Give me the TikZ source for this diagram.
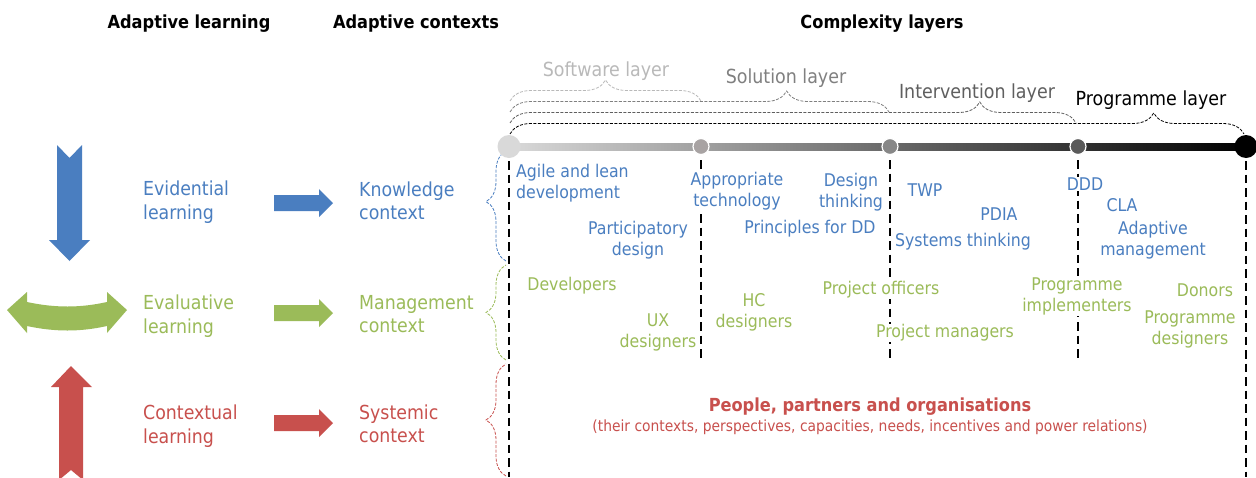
\documentclass[tikz,border=0pt]{standalone}
\usepackage{fontspec}
\setmainfont{DejaVu Sans Condensed}
\usetikzlibrary{decorations.pathreplacing}
\definecolor{cblue}{RGB}{74,126,192}
\definecolor{cgreen}{RGB}{155,187,89}
\definecolor{cred}{RGB}{200,80,77}
\definecolor{gsoft}{RGB}{185,185,185}
\definecolor{gsol}{RGB}{128,128,128}
\definecolor{gint}{RGB}{95,95,95}
\definecolor{dot1}{RGB}{217,217,217}
\definecolor{dot2}{RGB}{168,163,163}
\definecolor{dot3}{RGB}{135,135,135}
\definecolor{dot4}{RGB}{90,90,90}
\tikzset{
  hdr/.style={font=\fontsize{18}{22}\selectfont\bfseries, yshift=-2pt},
  big/.style={font=\fontsize{19.3}{23.5}\selectfont, align=left, anchor=west, inner sep=1pt, yshift=-2pt},
  txt/.style={font=\fontsize{17.5}{21}\selectfont, align=center, fill=white, inner sep=1pt, yshift=-2pt},
  layer/.style={font=\fontsize{19.4}{23}\selectfont, yshift=-2pt},
  vdash/.style={line width=2.8pt, dash pattern=on 8.5pt off 5pt},
  brc/.style={decorate, line width=0.8pt, dash pattern=on 3pt off 1.5pt},
  tdot/.style={circle, draw=white, line width=1.2pt, inner sep=0pt, minimum size=16pt},
  bdot/.style={circle, inner sep=0pt, minimum size=23pt},
}
\begin{document}
\begin{tikzpicture}[x=1pt,y=-1pt]
\useasboundingbox[fill=white] (0,0) rectangle (1256,477);

% headers
\node[hdr] (h1) at (189,22) {Adaptive learning};
\node[hdr] (h2) at (416,22) {Adaptive contexts};
\node[hdr] (h3) at (882,22) {Complexity layers};

% big learning arrows
\fill[cblue] (57,145) -- (69.5,158) -- (82,145) -- (82,240) -- (90,240) -- (69.5,261) -- (49,240) -- (57,240) -- cycle;
\fill[cgreen] (7,310) -- (27,292) -- (27,302) .. controls (55,308) and (80,308) .. (107,302) -- (107,292) -- (127,310) -- (107,333) -- (107,326) .. controls (80,332) and (55,332) .. (27,326) -- (27,333) -- cycle;
\fill[cred] (59,480) -- (59,387) -- (51,387) -- (71,366) -- (92,387) -- (83,387) -- (83,480) -- (71,470) -- cycle;

% learning and context labels
\node[big, text=cblue] (evid) at (142,200) {Evidential\\learning};
\node[big, text=cgreen] (eval) at (142,314) {Evaluative\\learning};
\node[big, text=cred] (cont) at (142,424) {Contextual\\learning};
\node[big, text=cblue] (know) at (358,199) {Knowledge\\context};
\node[big, text=cgreen] (mgmt) at (358,312) {Management\\context};
\node[big, text=cred] (syst) at (358,422) {Systemic\\context};

% small arrows
\foreach \yy/\cc in {203/cblue, 313/cgreen, 423/cred}
  \fill[\cc] (274,\yy-8) -- (319,\yy-8) -- (319,\yy-14) -- (333,\yy) -- (319,\yy+14) -- (319,\yy+8) -- (274,\yy+8) -- cycle;

% layer labels and braces
\node[layer, text=gsoft] (Lsw) at (606,69) {Software layer};
\node[layer, text=gsol] (Lso) at (786,76) {Solution layer};
\node[layer, text=gint] (Lin) at (977,91) {Intervention layer};
\node[layer, text=black] (Lpr) at (1151,98) {Programme layer};
\draw[brc, gsoft, decoration={brace, amplitude=21pt, aspect=0.5}] (510,101) -- (701,101);
\draw[brc, gsol, decoration={brace, amplitude=21pt, aspect=0.73}] (510,112) -- (889,112);
\draw[brc, gint, decoration={brace, amplitude=21pt, aspect=0.83}] (510,123) -- (1076,123);
\draw[brc, black, decoration={brace, amplitude=21pt, aspect=0.877}] (510,134) -- (1244,134);

% left context braces
\draw[brc, cblue, decoration={brace, amplitude=20pt, aspect=0.54}] (506,261) -- (506,151);
\draw[brc, cgreen, decoration={brace, amplitude=20pt, aspect=0.5}] (506,360) -- (506,265);
\draw[brc, cred, decoration={brace, amplitude=20pt, aspect=0.5}] (506,476) -- (506,364);

% timeline
\shade[left color=dot1, middle color=gray!62, right color=black] (509,143.5) rectangle (1246,150.5);
\node[bdot, fill=dot1] (d1) at (509,146.5) {};
\node[tdot, fill=dot2] (d2) at (701,146.5) {};
\node[tdot, fill=dot3] (d3) at (890,146.5) {};
\node[tdot, fill=dot4] (d4) at (1078,146.5) {};
\node[bdot, fill=black] (d5) at (1246,146.5) {};

% vertical dashed lines
\coordinate (e1) at (509,477);
\coordinate (e2) at (701,362);
\coordinate (e3) at (890,362);
\coordinate (e4) at (1078,362);
\coordinate (e5) at (1246,477);
\draw[vdash] ([yshift=-3pt]d1.south) -- (e1);
\draw[vdash] ([yshift=-5pt]d2.south) -- (e2);
\draw[vdash] ([yshift=-5pt]d3.south) -- (e3);
\draw[vdash] ([yshift=-5pt]d4.south) -- (e4);
\draw[vdash] ([yshift=-3pt]d5.south) -- (e5);

% knowledge items
\node[txt, text=cblue, align=left, anchor=west] (agile) at (515,181) {Agile and lean\\development};
\node[txt, text=cblue] (approp) at (737,189) {Appropriate\\technology};
\node[txt, text=cblue] (design) at (851,190) {Design\\thinking};
\node[txt, text=cblue] (partic) at (638,238) {Participatory\\design};
\node[txt, text=cblue] (princ) at (810,227) {Principles for DD};
\node[txt, text=cblue] (twp) at (925,188) {TWP};
\node[txt, text=cblue] (pdia) at (999,212) {PDIA};
\node[txt, text=cblue] (systh) at (963,240) {Systems thinking};
\node[txt, text=cblue] (ddd) at (1085,182) {DDD};
\node[txt, text=cblue] (cla) at (1122,203) {CLA};
\node[txt, text=cblue] (adapt) at (1153,238) {Adaptive\\management};

% management items
\node[txt, text=cgreen] (dev) at (572,284) {Developers};
\node[txt, text=cgreen] (ux) at (658,330) {UX\\designers};
\node[txt, text=cgreen] (hc) at (754,310) {HC\\designers};
\node[txt, text=cgreen] (poff) at (881,288) {Project officers};
\node[txt, text=cgreen] (pman) at (945,331) {Project managers};
\node[txt, text=cgreen] (pimp) at (1077,294) {Programme\\implementers};
\node[txt, text=cgreen] (donor) at (1205,288) {Donors};
\node[txt, text=cgreen] (pdes) at (1190,327) {Programme\\designers};

% systemic
\node[font=\fontsize{18}{22}\selectfont\bfseries, text=cred, yshift=-2pt] (ppl) at (870,405) {People, partners and organisations};
\node[font=\fontsize{15.4}{18}\selectfont, text=cred, yshift=-2pt] (sub) at (870,425) {(their contexts, perspectives, capacities, needs, incentives and power relations)};
\end{tikzpicture}
\end{document}
